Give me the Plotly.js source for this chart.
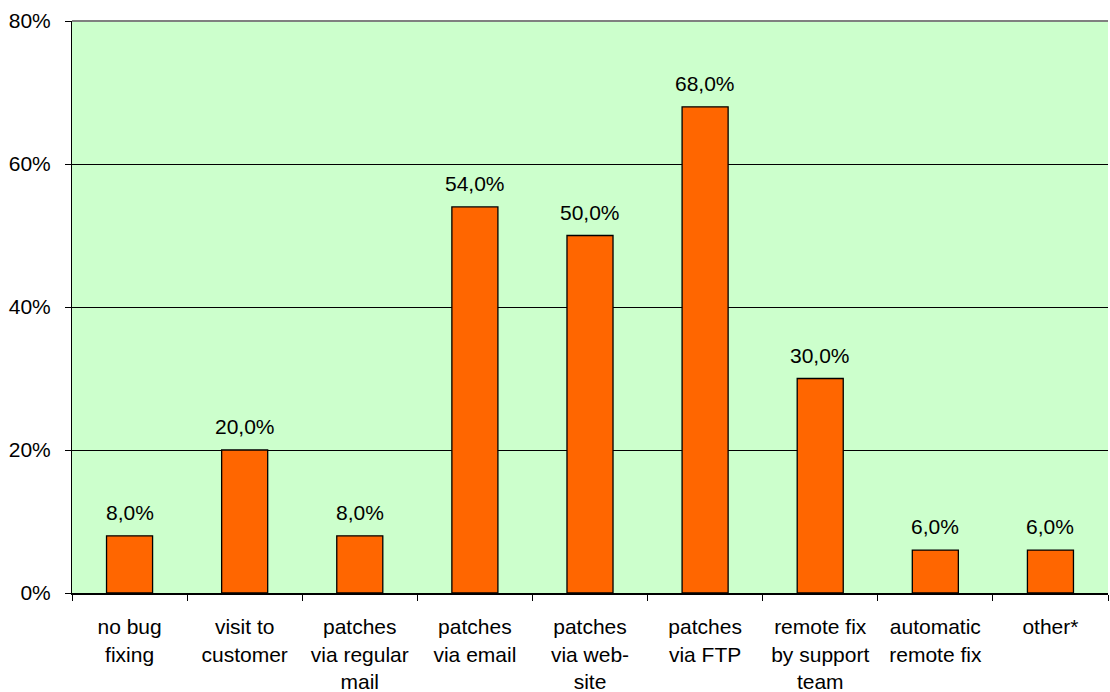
<!DOCTYPE html>
<html>
<head>
<meta charset="utf-8">
<script src="https://cdn.plot.ly/plotly-3.0.1.min.js"></script>
<style>html,body{margin:0;padding:0;background:#fff;}#chart{width:1110px;height:692px;}</style>
</head>
<body>
<div id="chart"></div>
<script>
// Ways of delivering bug fixes, share of respondents (%)
const categories = [
  'no bug<br>fixing',
  'visit to<br>customer',
  'patches<br>via regular<br>mail',
  'patches<br>via email',
  'patches<br>via web-<br>site',
  'patches<br>via FTP',
  'remote fix<br>by support<br>team',
  'automatic<br>remote fix',
  'other*'
];
const shares = [8, 20, 8, 54, 50, 68, 30, 6, 6];
const yTicks = [0, 20, 40, 60, 80];

const FONT = 'Liberation Sans, Arial, sans-serif';

const trace = {
  type: 'bar',
  x: categories,
  y: shares,
  marker: { color: '#ff6600', line: { color: '#000000', width: 1.3 } },
  hoverinfo: 'skip'
};

// value labels sitting a little above each bar
const valueLabels = categories.map((c, i) => ({
  x: c,
  y: shares[i],
  xref: 'x',
  yref: 'y',
  text: shares[i].toFixed(1).replace('.', ',') + '%',
  showarrow: false,
  yanchor: 'bottom',
  yshift: 10,
  font: { family: FONT, size: 21, color: '#000' }
}));

const layout = {
  width: 1110,
  height: 692,
  margin: { l: 72, r: 2, t: 21, b: 99 },
  paper_bgcolor: '#ffffff',
  plot_bgcolor: '#ccffcc',
  bargap: 0.6,
  showlegend: false,
  font: { family: FONT, size: 21, color: '#000' },
  xaxis: {
    type: 'category',
    tickson: 'boundaries',
    ticks: 'outside',
    ticklen: 6,
    tickcolor: '#000',
    tickwidth: 1,
    showline: true,
    linecolor: '#000',
    linewidth: 2,
    showgrid: false,
    tickfont: { size: 21 },
    ticklabelstandoff: 14,
    automargin: false
  },
  yaxis: {
    range: [0, 80],
    tickvals: yTicks,
    ticktext: yTicks.map(v => v + '%'),
    ticks: 'outside',
    ticklen: 6,
    tickcolor: '#000',
    showline: true,
    linecolor: '#000',
    linewidth: 1,
    showgrid: true,
    gridcolor: '#000000',
    gridwidth: 1,
    zeroline: false,
    tickfont: { size: 21 },
    ticklabelstandoff: 10,
    automargin: false
  },
  annotations: valueLabels,
  shapes: [{
    type: 'line', xref: 'paper', yref: 'paper',
    x0: 0, x1: 1, y0: 1, y1: 1,
    line: { color: '#808080', width: 2 }
  }]
};

Plotly.newPlot('chart', [trace], layout, { staticPlot: true, displayModeBar: false });
</script>
</body>
</html>
